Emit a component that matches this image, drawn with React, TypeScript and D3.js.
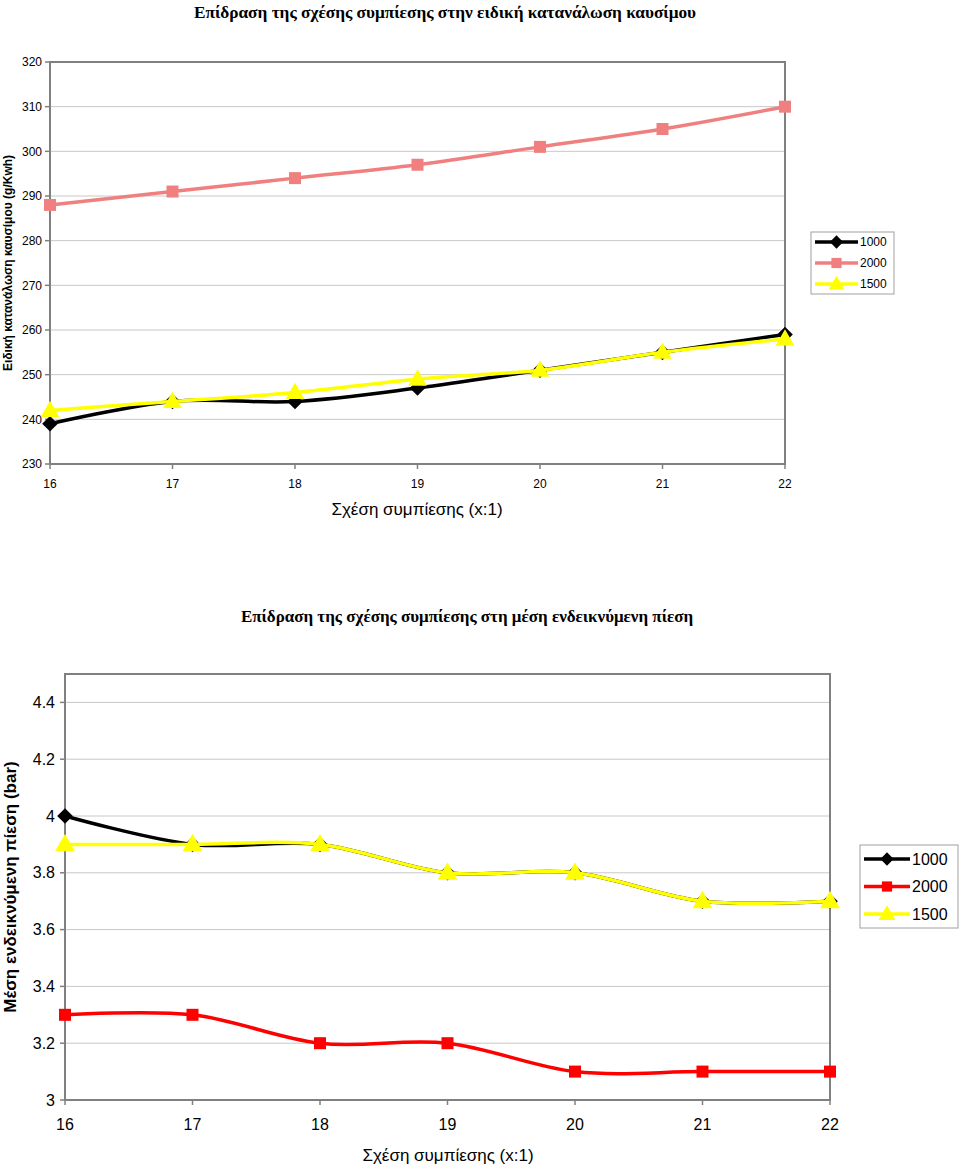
import React from "react";
import * as d3 from "d3";

const ratios = [16, 17, 18, 19, 20, 21, 22];
const seriesNames = ["1000", "2000", "1500"];

const bsfc1000 = [239, 244, 244, 247, 251, 255, 259];
const bsfc2000 = [288, 291, 294, 297, 301, 305, 310];
const bsfc1500 = [242, 244, 246, 249, 251, 255, 258];
const bsfcTicks = [230, 240, 250, 260, 270, 280, 290, 300, 310, 320];

const imep1000 = [4.0, 3.9, 3.9, 3.8, 3.8, 3.7, 3.7];
const imep2000 = [3.3, 3.3, 3.2, 3.2, 3.1, 3.1, 3.1];
const imep1500 = [3.9, 3.9, 3.9, 3.8, 3.8, 3.7, 3.7];
const imepTicks = [3, 3.2, 3.4, 3.6, 3.8, 4, 4.2, 4.4];

const title1 = "Επίδραση της σχέσης συμπίεσης στην ειδική κατανάλωση καυσίμου";
const title2 = "Επίδραση της σχέσης συμπίεσης στη μέση ενδεικνύμενη πίεση";
const yLabel1 = "Ειδική κατανάλωση καυσίμου (g/Kwh)";
const yLabel2 = "Μέση ενδεικνύμενη πίεση (bar)";
const xLabel = "Σχέση συμπίεσης (x:1)";

const SANS = "'Liberation Sans', Arial, sans-serif";
const SERIF = "'Liberation Serif', 'Times New Roman', serif";

type MarkerKind = "diamond" | "square" | "triangle";

function Marker({ kind, x, y, color, s }: { kind: MarkerKind; x: number; y: number; color: string; s: number }) {
  if (kind === "diamond") {
    const r = s * 0.6;
    return <polygon points={`${x},${y - r} ${x + r},${y} ${x},${y + r} ${x - r},${y}`} fill={color} />;
  }
  if (kind === "square") {
    const h = s * 0.5;
    return <rect x={x - h} y={y - h} width={2 * h} height={2 * h} fill={color} />;
  }
  const h = s * 0.62;
  return (
    <polygon
      points={`${x},${y - h * 1.05} ${x + h},${y + h * 0.7} ${x - h},${y + h * 0.7}`}
      fill={color}
    />
  );
}

interface ChartProps {
  left: number;
  right: number;
  top: number;
  bottom: number;
  yDomain: [number, number];
  yTicks: number[];
  data: number[][];
  colors: string[];
  kinds: MarkerKind[];
  tickFont: number;
  xTickY: number;
  yTickX: number;
  lineW: number;
  markerSizes: number[];
  yLabel: string;
  yLabelX: number;
  yLabelFont: number;
  xLabelY: number;
  xLabelX: number;
  xLabelFont: number;
  title: string;
  titleX: number;
  titleY: number;
  titleFont: number;
  legend: { x: number; y: number; w: number; h: number; rowGap: number; font: number; lineLen: number };
}

function Chart(p: ChartProps) {
  const x = d3.scaleLinear().domain([16, 22]).range([p.left, p.right]);
  const y = d3.scaleLinear().domain(p.yDomain).range([p.bottom, p.top]);
  const line = d3
    .line<number>()
    .x((_, i) => x(ratios[i]))
    .y((v) => y(v))
    .curve(d3.curveCardinal.tension(0));
  const fmt = (v: number) => String(+v.toFixed(2));
  return (
    <g>
      <text x={p.titleX} y={p.titleY} textAnchor="middle" fontFamily={SERIF} fontWeight="bold" fontSize={p.titleFont}>
        {p.title}
      </text>
      {p.yTicks.map((t) => (
        <line key={"g" + t} x1={p.left} x2={p.right} y1={y(t)} y2={y(t)} stroke="#c8c8c8" strokeWidth={1} />
      ))}
      <rect x={p.left} y={p.top} width={p.right - p.left} height={p.bottom - p.top} fill="none" stroke="#808080" strokeWidth={2} />
      {p.yTicks.map((t) => (
        <g key={"t" + t}>
          <line x1={p.left - 5} x2={p.left} y1={y(t)} y2={y(t)} stroke="#808080" strokeWidth={1.5} />
          <text x={p.yTickX} y={y(t)} dy="0.35em" textAnchor="end" fontFamily={SANS} fontSize={p.tickFont}>
            {fmt(t)}
          </text>
        </g>
      ))}
      {ratios.map((r) => (
        <g key={"x" + r}>
          <line x1={x(r)} x2={x(r)} y1={p.bottom} y2={p.bottom + 5} stroke="#808080" strokeWidth={1.5} />
          <text x={x(r)} y={p.xTickY} textAnchor="middle" fontFamily={SANS} fontSize={p.tickFont}>
            {r}
          </text>
        </g>
      ))}
      {p.data.map((d, si) => (
        <g key={"s" + si}>
          <path d={line(d) || ""} fill="none" stroke={p.colors[si]} strokeWidth={p.lineW} strokeLinejoin="round" />
          {d.map((v, i) => (
            <Marker key={i} kind={p.kinds[si]} x={x(ratios[i])} y={y(v)} color={p.colors[si]} s={p.markerSizes[si]} />
          ))}
        </g>
      ))}
      <text
        transform={`translate(${p.yLabelX},${(p.top + p.bottom) / 2}) rotate(-90)`}
        textAnchor="middle"
        fontFamily={SANS}
        fontWeight="bold"
        fontSize={p.yLabelFont}
      >
        {p.yLabel}
      </text>
      <text x={p.xLabelX} y={p.xLabelY} textAnchor="middle" fontFamily={SANS} fontSize={p.xLabelFont}>
        {xLabel}
      </text>
      <g>
        <rect x={p.legend.x} y={p.legend.y} width={p.legend.w} height={p.legend.h} fill="white" stroke="#a0a0a0" strokeWidth={1} />
        {seriesNames.map((n, i) => {
          const ly = p.legend.y + p.legend.h / 2 + (i - 1) * p.legend.rowGap;
          const lx0 = p.legend.x + 4;
          const lx1 = lx0 + p.legend.lineLen;
          return (
            <g key={n}>
              <line x1={lx0} x2={lx1} y1={ly} y2={ly} stroke={p.colors[i]} strokeWidth={p.lineW} />
              <Marker kind={p.kinds[i]} x={(lx0 + lx1) / 2} y={ly} color={p.colors[i]} s={p.markerSizes[i] * 0.85} />
              <text x={lx1 + 2} y={ly} dy="0.36em" fontFamily={SANS} fontSize={p.legend.font}>
                {n}
              </text>
            </g>
          );
        })}
      </g>
    </g>
  );
}

export default function App() {
  return (
    <svg width={960} height={1165} style={{ position: "absolute", left: 0, top: 0, background: "white" }}>
      <Chart
        left={50}
        right={785}
        top={62}
        bottom={464}
        yDomain={[230, 320]}
        yTicks={bsfcTicks}
        data={[bsfc1000, bsfc2000, bsfc1500]}
        colors={["#000000", "#f08080", "#ffff00"]}
        kinds={["diamond", "square", "triangle"]}
        tickFont={12}
        xTickY={488}
        yTickX={42}
        lineW={3.5}
        markerSizes={[13, 12, 15]}
        yLabel={yLabel1}
        yLabelX={12}
        yLabelFont={12}
        xLabelY={515}
        xLabelX={417}
        xLabelFont={17}
        title={title1}
        titleX={445}
        titleY={18}
        titleFont={17.3}
        legend={{ x: 811, y: 232, w: 83, h: 62, rowGap: 21, font: 12, lineLen: 43 }}
      />
      <Chart
        left={65}
        right={830}
        top={674}
        bottom={1100}
        yDomain={[3, 4.5]}
        yTicks={imepTicks}
        data={[imep1000, imep2000, imep1500]}
        colors={["#000000", "#ff0000", "#ffff00"]}
        kinds={["diamond", "square", "triangle"]}
        tickFont={16}
        xTickY={1130}
        yTickX={55}
        lineW={3.5}
        markerSizes={[13, 12, 16]}
        yLabel={yLabel2}
        yLabelX={16}
        yLabelFont={17}
        xLabelY={1161}
        xLabelX={448}
        xLabelFont={17}
        title={title2}
        titleX={467}
        titleY={622}
        titleFont={17}
        legend={{ x: 860, y: 845, w: 98, h: 83, rowGap: 27.5, font: 16, lineLen: 46 }}
      />
    </svg>
  );
}
